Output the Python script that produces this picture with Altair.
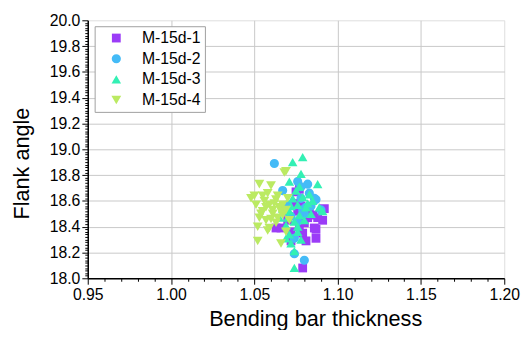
import altair as alt
import pandas as pd

series_names = ["M-15d-1", "M-15d-2", "M-15d-3", "M-15d-4"]
colors = ["#9B3CF7", "#44BBF7", "#33F0B4", "#BBEA62"]
shapes = ["square", "circle", "triangle-up", "triangle-down"]
sizes = [80, 100, 170, 170]

s1_x = [1.092, 1.091, 1.086, 1.087, 1.079, 1.080, 1.075, 1.074, 1.063, 1.079, 1.085,
        1.077, 1.070, 1.083, 1.072, 1.088, 1.078, 1.081, 1.068, 1.087, 1.072, 1.077, 1.066,
        1.082, 1.076]
s1_y = [18.54, 18.45, 18.39, 18.31, 18.35, 18.43, 18.67, 18.58, 18.39, 18.08, 18.49,
        18.40, 18.45, 18.52, 18.36, 18.47, 18.56, 18.29, 18.52, 18.38, 18.29, 18.69, 18.39,
        18.47, 18.52]

s2_x = [1.062, 1.076, 1.082, 1.087, 1.090, 1.080, 1.074, 1.080, 1.074, 1.067, 1.078,
        1.081, 1.078, 1.086, 1.084, 1.070, 1.076, 1.072, 1.083, 1.079]
s2_y = [18.89, 18.75, 18.73, 18.61, 18.53, 18.50, 18.31, 18.14, 18.19, 18.68, 18.62,
        18.55, 18.71, 18.62, 18.56, 18.57, 18.44, 18.48, 18.66, 18.53]

s3_x = [1.079, 1.073, 1.078, 1.088, 1.071, 1.077, 1.081, 1.076, 1.071, 1.091, 1.074,
        1.080, 1.069, 1.076, 1.071, 1.078, 1.074, 1.074, 1.069, 1.065, 1.067, 1.083,
        1.073, 1.085, 1.077, 1.072, 1.075, 1.082, 1.079, 1.070, 1.084, 1.076, 1.072,
        1.089]
s3_y = [18.94, 18.90, 18.81, 18.73, 18.75, 18.71, 18.55, 18.57, 18.52, 18.52, 18.44,
        18.45, 18.41, 18.36, 18.34, 18.30, 18.21, 18.08, 18.31, 18.47, 18.54, 18.65,
        18.62, 18.60, 18.49, 18.27, 18.68, 18.58, 18.63, 18.47, 18.50, 18.40, 18.56,
        18.55]

s4_x = [1.069, 1.053, 1.060, 1.048, 1.055, 1.064, 1.070, 1.051, 1.059, 1.065, 1.055,
        1.061, 1.067, 1.052, 1.059, 1.069, 1.066, 1.052, 1.057, 1.063, 1.058, 1.056,
        1.062, 1.066, 1.053, 1.060, 1.068, 1.057, 1.063, 1.067, 1.061, 1.064, 1.054,
        1.069, 1.058, 1.050, 1.071]
s4_y = [18.83, 18.73, 18.72, 18.62, 18.64, 18.64, 18.62, 18.57, 18.57, 18.55, 18.52,
        18.50, 18.49, 18.40, 18.39, 18.36, 18.27, 18.29, 18.45, 18.43, 18.37, 18.60,
        18.58, 18.52, 18.47, 18.46, 18.82, 18.55, 18.61, 18.57, 18.53, 18.47, 18.50,
        18.53, 18.66, 18.64, 18.45]

x_ticks = [round(0.95 + i * 0.01, 2) for i in range(26)]
y_ticks = [round(18.0 + i * 0.02, 2) for i in range(101)]

rows = []
for name, xs, ys in zip(series_names, [s1_x, s2_x, s3_x, s4_x], [s1_y, s2_y, s3_y, s4_y]):
    for a, b in zip(xs, ys):
        rows.append({"series": name, "x": a, "y": b})
df = pd.DataFrame(rows)
df["order"] = range(len(df))

font = "Liberation Sans"

x_major = "abs(datum.value*20 - round(datum.value*20)) < 0.01"
y_major = "abs(datum.value*5 - round(datum.value*5)) < 0.01"

chart = alt.Chart(df).mark_point(filled=True, opacity=1, strokeWidth=0).encode(
    x=alt.X("x:Q", scale=alt.Scale(domain=[0.95, 1.20], nice=False, zero=False),
            axis=alt.Axis(
                title="Bending bar thickness", values=x_ticks,
                labelExpr=f"{x_major} ? format(datum.value, '.2f') : ''",
                tickSize={"condition": {"test": x_major, "value": 6}, "value": 3},
                gridOpacity={"condition": {"test": f"{x_major} && datum.value > 0.96 && datum.value < 1.19", "value": 1}, "value": 0},
                gridColor="#c8c8c8", gridWidth=1,
                domainColor="black", domainWidth=1.5, tickColor="black", tickWidth=1,
                labelFont=font, labelFontSize=16, labelColor="black", labelPadding=3,
                labelOverlap=False, labelFlush=False,
                titleFont=font, titleFontSize=22, titleFontWeight="normal", titleColor="black",
                titleX=231, titleY=48, titleBaseline="alphabetic", titleAlign="center")),
    y=alt.Y("y:Q", scale=alt.Scale(domain=[18.0, 20.0], nice=False, zero=False),
            axis=alt.Axis(
                title="Flank angle", values=y_ticks,
                labelExpr=f"{y_major} ? format(datum.value, '.1f') : ''",
                tickSize={"condition": {"test": y_major, "value": 6}, "value": 3},
                gridOpacity={"condition": {"test": f"{y_major} && datum.value > 18.1 && datum.value < 19.9", "value": 1}, "value": 0},
                gridColor="#c8c8c8", gridWidth=1,
                domainColor="black", domainWidth=1.5, tickColor="black", tickWidth=1,
                labelFont=font, labelFontSize=16, labelColor="black", labelPadding=2,
                labelOverlap=False, labelFlush=False,
                titleFont=font, titleFontSize=22, titleFontWeight="normal", titleColor="black",
                titleX=-60, titleY=145, titleBaseline="alphabetic", titleAlign="center")),
    color=alt.Color("series:N", scale=alt.Scale(domain=series_names, range=colors),
                    legend=alt.Legend(title=None, orient="none", legendX=7, legendY=6,
                                      labelFont=font, labelFontSize=16, labelColor="black",
                                      fillColor="white", strokeColor="#a0a0a0",
                                      padding=4, rowPadding=5, symbolOffset=10,
                                      labelOffset=18, symbolSize=110, symbolStrokeWidth=0,
                                      labelLimit=200)),
    shape=alt.Shape("series:N", scale=alt.Scale(domain=series_names, range=shapes)),
    size=alt.Size("series:N", scale=alt.Scale(domain=series_names, range=sizes), legend=None),
    order=alt.Order("order:Q"),
).properties(
    width=423, height=262,
    autosize=alt.AutoSizeParams(type="none"),
    padding={"left": 81, "top": 10, "right": 17, "bottom": 50},
).configure_view(stroke="black", strokeWidth=1.5).configure(background="white")

chart.save("out.html", embed_options={"renderer": "svg", "actions": False})
